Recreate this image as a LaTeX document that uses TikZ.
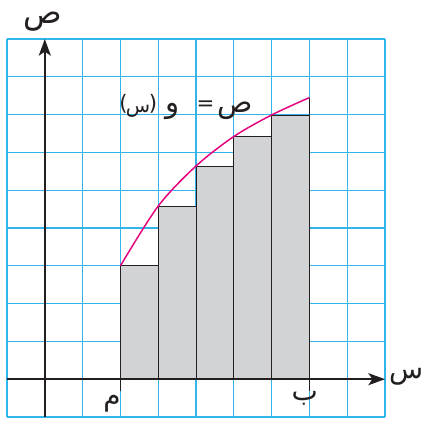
\documentclass[tikz,border=0pt]{standalone}
\usepackage{fontspec}
\newfontfamily\arabicfont[Script=Arabic]{DejaVu Sans}
\newfontfamily\symfont{DejaVu Sans}
\usetikzlibrary{arrows.meta}
\definecolor{gridblue}{HTML}{33B5EA}
\definecolor{curvemag}{HTML}{E5007D}
\definecolor{barfill}{HTML}{D1D3D4}
\definecolor{ink}{HTML}{231F20}
\begin{document}
\begin{tikzpicture}[x=1cm,y=1cm,
  gridline/.style={gridblue, line width=0.8pt},
  axisline/.style={ink, line width=1.6pt, -{Stealth[length=12.5pt,width=9pt,inset=3pt]}},
  bar/.style={fill=barfill, draw=ink, line width=0.7pt},
  curveline/.style={curvemag, line width=1.1pt},
  arlabel/.style={font=\arabicfont\fontsize{21}{25}\selectfont, inner sep=0pt, text=ink},
  bigar/.style={font=\arabicfont\fontsize{24}{28}\selectfont, inner sep=0pt, text=ink},
  farlabel/.style={font=\arabicfont\fontsize{22}{26}\selectfont, inner sep=0pt, text=ink, anchor=base},
  fsmall/.style={font=\arabicfont\fontsize{15}{18}\selectfont, inner sep=0pt, text=ink, anchor=base},
  fsym/.style={font=\symfont\fontsize{16}{19}\selectfont, inner sep=0pt, text=ink, anchor=base},
  tickline/.style={ink, line width=1pt}]
\useasboundingbox (-0.185,-0.106) rectangle (10.979,11.032);
\draw[gridline] (0,0) grid (10,10);
\foreach \xa/\xb/\h in {3/4/4,4/5/5.58,5/6/6.64,6/7/7.42,7/8/7.99}
  \draw[bar] (\xa,1) rectangle (\xb,\h);
\coordinate (bt) at (8,7.99);
\coordinate (ct) at (8,8.45);
\draw[ink, line width=0.7pt] (bt) -- (ct);
\draw[curveline] plot[smooth] coordinates {(3,4) (4,5.58) (5,6.64) (6,7.42) (7,7.99) (8,8.45)};
\coordinate (xs) at (0,1);
\coordinate (xe) at (10,1);
\coordinate (ys) at (1,0);
\coordinate (ye) at (1,10);
\draw[axisline] (xs) -- (xe);
\draw[axisline] (ys) -- (ye);
\coordinate (ta1) at (3,1);
\coordinate (ta2) at (3,0.7);
\coordinate (tb1) at (8,1);
\coordinate (tb2) at (8,0.7);
\draw[tickline] (ta1) -- (ta2);
\draw[tickline] (tb1) -- (tb2);
\node[bigar] (ylab) at (0.95,10.45) {ص};
\node[arlabel] (xlab) at (10.56,1.06) {س};
\node[arlabel] (alab) at (2.78,0.34) {م};
\node[arlabel] (blab) at (7.88,0.50) {ب};
% function label  ص = و(س), set piece by piece from right to left
\node[farlabel] (fy) at (6.03,8.06) {ص};
\node[fsym] (feq) at (5.25,8.1) {=};
\node[farlabel] (ff) at (4.37,8.06) {و};
\node[fsym] (fpr) at (3.86,8.1) {)};
\node[fsmall] (fx) at (3.47,8.06) {س};
\node[fsym] (fpl) at (3.08,8.1) {(};
\end{tikzpicture}
\end{document}
